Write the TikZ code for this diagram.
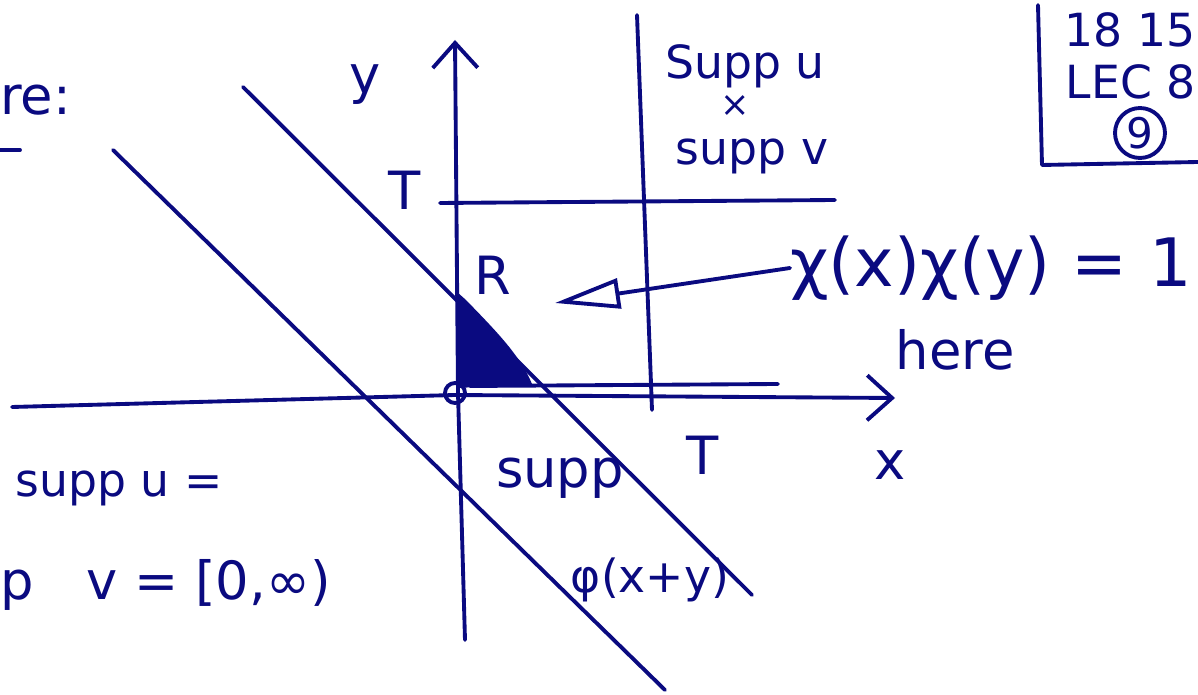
\documentclass[tikz,border=0pt]{standalone}
\usepackage{fontspec}
\setmainfont{DejaVu Sans}
\usetikzlibrary{arrows.meta}
\definecolor{ink}{RGB}{10,10,128}
\tikzset{
  pen/.style={draw=ink, line width=2.2pt, line cap=round, line join=round},
  hand/.style={text=ink, inner sep=0pt, font=\fontsize{30}{36}\selectfont},
  smallhand/.style={hand, font=\fontsize{26}{30}\selectfont},
  bighand/.style={hand, font=\fontsize{38}{44}\selectfont},
  barb/.style={-{Straight Barb[length=5mm,width=9mm,line width=2.2pt]}}
}

\begin{document}
\begin{tikzpicture}[x=0.02cm,y=-0.02cm]
\useasboundingbox (0,0) rectangle (1198,695);
\clip (0,0) rectangle (1198,695);

\begin{scope}[pen]
\draw[barb] (12,407) -- (455,395) -- (895,398);
\draw[barb] (465,640) -- (458,393) -- (455,40);
\draw (440,203) -- (835,200);
\draw (637,15) -- (652,410);
\draw (243,87) -- (752,595);
\draw (113,150) -- (665,690);
\draw (470,386) -- (778,384);
\draw (455,393) circle [radius=2mm];
\draw (0,150) -- (20,150);
\draw (1038,5) -- (1042,165) -- (1198,162);
\end{scope}

\fill[ink] (457,292) -- (466,300) .. controls (495,330) and (520,355) .. (532,384) -- (458,388) -- cycle;

\begin{scope}[hand]
\node (here0) [anchor=west] at (0,100) {re:};
\node (ylbl) at (365,85) {y};
\node (xlbl) at (890,465) {x};
\node (ty) at (405,190) {T};
\node (tx) at (703,455) {T};
\node (rlbl) at (493,275) {R};
\node (suppu) [smallhand] at (745,66) {Supp u};
\node (times) [font=\fontsize{20}{24}\selectfont] at (735,106) {×};
\node (suppv) [smallhand] at (752,156) {supp v};
\node (suppu2) [smallhand, anchor=west] at (15,488) {supp u =};
\node (suppv2) [anchor=west] at (0,585) {p\quad v = [0,∞)};
\node (suppphi) at (560,478) {supp};
\node (phi) [smallhand] at (650,580) {φ(x+y)};
\node (date) [smallhand, anchor=east] at (1196,30) {18 15};
\node (lec) [smallhand, anchor=east] at (1196,82) {LEC 8};
\node (page) [draw=ink, line width=2.2pt, circle, minimum size=1cm, font=\fontsize{24}{28}\selectfont] at (1140,133) {9};
\node (here) at (955,350) {here};
\end{scope}

\node (chi) [bighand, anchor=west] at (790,268) {χ(x)χ(y) = 1};

\draw[pen, -{Triangle[open,length=13mm,width=6mm,line width=2.2pt]}] (chi.west) -- (555,303);

\end{tikzpicture}
\end{document}
